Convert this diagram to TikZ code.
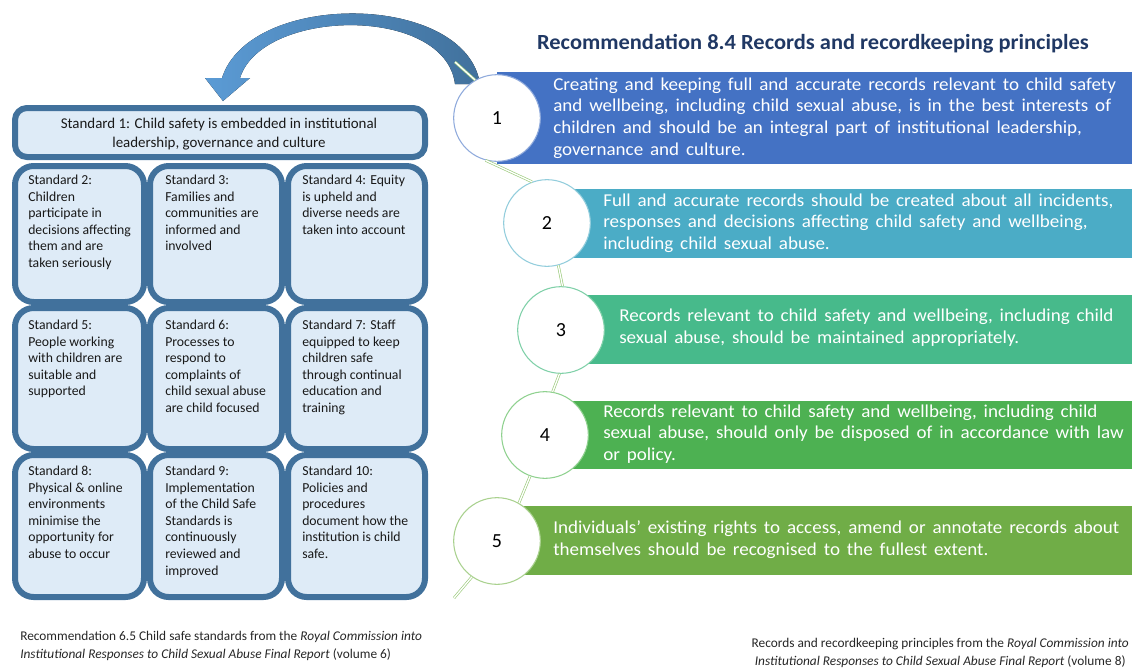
\documentclass[tikz,border=0pt]{standalone}
\usepackage{fontspec}
\setmainfont{Carlito}
\newfontfamily\barfont[FakeStretch=1.05,WordSpace=1.6]{Carlito}
\newfontfamily\titlefont[FakeStretch=1.04]{Carlito}
\usetikzlibrary{fit}
\definecolor{cellborder}{HTML}{41719C}
\definecolor{cellfill}{HTML}{DEEBF7}
\definecolor{barA}{HTML}{4472C4}
\definecolor{barB}{HTML}{4BACC6}
\definecolor{barC}{HTML}{47BA8B}
\definecolor{barD}{HTML}{4DB152}
\definecolor{barE}{HTML}{70AD47}
\definecolor{ringA}{HTML}{8FAADC}
\definecolor{ringB}{HTML}{92CDDC}
\definecolor{ringC}{HTML}{7FD0A8}
\definecolor{ringD}{HTML}{8FD18F}
\definecolor{ringE}{HTML}{A9D18E}
\definecolor{titlecol}{HTML}{203864}
\definecolor{spinecol}{HTML}{9DCB7E}
\definecolor{arrowL}{HTML}{5B9BD5}
\definecolor{arrowR}{HTML}{41719C}
\begin{document}
\begin{tikzpicture}[x=0.75pt,y=-0.75pt,
  cell/.style={draw=cellborder, fill=cellfill, line width=4.5pt, rounded corners=14pt, inner sep=0pt},
  topcell/.style={cell, rounded corners=9pt},
  celltext/.style={anchor=north west, align=left, font=\fontsize{10.3}{12.4}\selectfont, text=black!90, inner sep=0pt},
  bar/.style={inner sep=0pt, draw=none},
  bartext/.style={anchor=west, align=left, text=white, inner sep=0pt, font=\barfont\fontsize{13.6}{16.3}\selectfont},
  ring/.style={circle, fill=white, line width=0.8pt, minimum size=65pt, inner sep=0pt, font=\fontsize{15}{17}\selectfont},
  spine/.style={draw=spinecol, line width=0.5pt, double=white, double distance=1pt},
  caption/.style={align=left, inner sep=0pt, text=black!85, font=\fontsize{10}{14}\selectfont}
]
\useasboundingbox (0,0) rectangle (1132,668);
\clip (0,0) rectangle (1132,668);

% ---- standards grid ----
\node[topcell, fit={(15,108) (425,157)}] (s1) {};
\node[cell, fit={(15,166) (144,302)}] (s2) {};
\node[cell, fit={(150,166) (282,302)}] (s3) {};
\node[cell, fit={(288,166) (425,302)}] (s4) {};
\node[cell, fit={(15,308) (144,449)}] (s5) {};
\node[cell, fit={(150,308) (282,449)}] (s6) {};
\node[cell, fit={(288,308) (425,449)}] (s7) {};
\node[cell, fit={(15,455) (144,597)}] (s8) {};
\node[cell, fit={(150,455) (282,597)}] (s9) {};
\node[cell, fit={(288,455) (425,597)}] (s10) {};

\node[align=center, inner sep=0pt, text=black!90, font=\fontsize{11.2}{14}\selectfont] (t1) at (219,134) {Standard 1: Child safety is embedded in institutional\\leadership, governance and culture};
\node[celltext] (t2) at (28,175) {Standard 2:\\Children\\participate in\\decisions affecting\\them and are\\taken seriously};
\node[celltext] (t3) at (165,175) {Standard 3:\\Families and\\communities are\\informed and\\involved};
\node[celltext] (t4) at (302,175) {Standard 4: Equity\\is upheld and\\diverse needs are\\taken into account};
\node[celltext] (t5) at (28,320) {Standard 5:\\People working\\with children are\\suitable and\\supported};
\node[celltext] (t6) at (165,320) {Standard 6:\\Processes to\\respond to\\complaints of\\child sexual abuse\\are child focused};
\node[celltext] (t7) at (302,320) {Standard 7: Staff\\equipped to keep\\children safe\\through continual\\education and\\training};
\node[celltext] (t8) at (28,466) {Standard 8:\\Physical \& online\\environments\\minimise the\\opportunity for\\abuse to occur};
\node[celltext] (t9) at (165,466) {Standard 9:\\Implementation\\of the Child Safe\\Standards is\\continuously\\reviewed and\\improved};
\node[celltext] (t10) at (302,466) {Standard 10:\\Policies and\\procedures\\document how the\\institution is child\\safe.};

% ---- curved arrow ----
\fill[left color=arrowL, right color=arrowR]
  (480,84) .. controls (466,-8) and (250,-10) .. (222,78)
  -- (205,78) -- (223,101) -- (250,78) -- (240,78)
  .. controls (262,8) and (445,5) .. (455,84) -- cycle;

% ---- title ----
\node[inner sep=0pt, text=titlecol, font=\titlefont\bfseries\fontsize{16.2}{19}\selectfont] (title) at (813,44) {Recommendation 8.4 Records and recordkeeping principles};

% ---- bars ----
\node[bar, fill=barA, fit={(497,72) (1140,164)}] (b1) {};
\node[bar, fill=barB, fit={(547,189) (1140,258)}] (b2) {};
\node[bar, fill=barC, fit={(561,295) (1140,364)}] (b3) {};
\node[bar, fill=barD, fit={(545,401) (1140,469)}] (b4) {};
\node[bar, fill=barE, fit={(497,506) (1140,575)}] (b5) {};

% ---- circles ----
\node[ring, draw=ringA] (c1) at (497,118) {1};
\node[ring, draw=ringB] (c2) at (547,223) {2};
\node[ring, draw=ringC] (c3) at (561,330) {3};
\node[ring, draw=ringD] (c4) at (545,435) {4};
\node[ring, draw=ringE] (c5) at (497,541) {5};

% ---- spine ----
\coordinate (sp0) at (455,62);
\coordinate (sp6) at (454,598);
\draw[spine] (sp0) -- (c1.120);
\draw[spine] (c1.255) -- (c2.110);
\draw[spine] (c2.285) -- (c3.88);
\draw[spine] (c3.268) -- (c4.80);
\draw[spine] (c4.250) -- (c5.60);
\draw[spine] (c5.235) -- (sp6);

% ---- bar texts ----
\node[bartext] (bt1) at (553,118) {Creating and keeping full and accurate records relevant to child safety\\and wellbeing, including child sexual abuse, is in the best interests of\\children and should be an integral part of institutional leadership,\\governance and culture.};
\node[bartext] (bt2) at (603,223) {Full and accurate records should be created about all incidents,\\responses and decisions affecting child safety and wellbeing,\\including child sexual abuse.};
\node[bartext] (bt3) at (619,328) {Records relevant to child safety and wellbeing, including child\\sexual abuse, should be maintained appropriately.};
\node[bartext] (bt4) at (603,434) {Records relevant to child safety and wellbeing, including child\\sexual abuse, should only be disposed of in accordance with law\\or policy.};
\node[bartext] (bt5) at (553,540) {Individuals’ existing rights to access, amend or annotate records about\\themselves should be recognised to the fullest extent.};

% ---- captions ----
\node[caption, anchor=west] (cap1) at (20,646) {Recommendation 6.5 Child safe standards from the \textit{Royal Commission into}\\\textit{Institutional Responses to Child Sexual Abuse Final Report} (volume 6)};
\node[caption, align=center, anchor=east] (cap2) at (1129,653) {Records and recordkeeping principles from the \textit{Royal Commission into}\\\textit{Institutional Responses to Child Sexual Abuse Final Report} (volume 8)};
\end{tikzpicture}
\end{document}
